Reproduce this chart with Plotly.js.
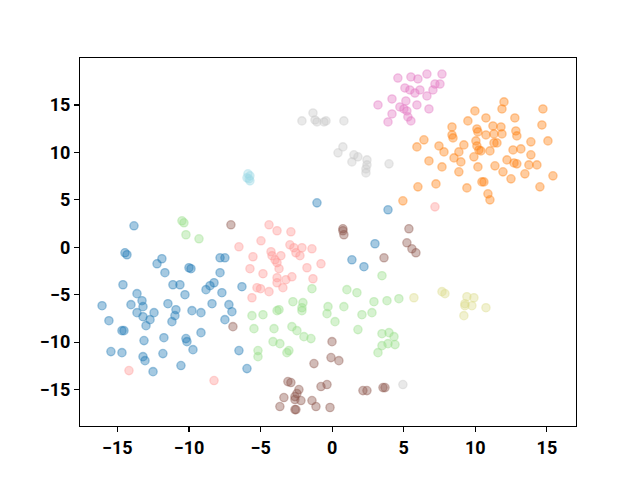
<!DOCTYPE html>
<html>
<head>
<meta charset="utf-8">
<script src="https://cdn.plot.ly/plotly-3.0.1.min.js"></script>
<style>html,body{margin:0;padding:0;background:#fff;}#chart{width:640px;height:480px;}</style>
</head>
<body>
<div id="chart"></div>
<script>
// ---- data ----
const blueX = [-13.84,-14.47,-14.33,-11.89,-12.23,-11.68,-10.00,-9.86,-7.83,-7.49,-7.83,-14.61,-13.63,-13.28,-11.12,-10.63,-10.28,-8.25,-8.53,-8.81,-7.70,-6.30,-16.07,-14.05,-13.21,-11.47,-10.91,-10.98,-8.39,-7.21,-7.00,-15.59,-14.68,-14.54,-13.63,-13.21,-12.72,-12.44,-13.00,-11.19,-9.79,-9.16,-7.49,-11.75,-13.14,-10.21,-10.14,-9.16,-9.72,-15.45,-14.68,-11.82,-13.21,-13.07,-10.56,-12.51,-6.51,-5.95,-1.06,3.90,2.99,1.38,2.22];
const blueY = [2.26,-0.58,-0.79,-1.21,-1.74,-2.68,-2.16,-2.26,-1.11,-1.11,-2.68,-3.95,-4.89,-5.63,-3.95,-3.95,-5.00,-3.74,-4.05,-4.47,-4.79,-4.16,-6.16,-6.05,-6.26,-5.95,-6.58,-7.21,-5.95,-6.05,-6.79,-7.74,-8.79,-8.79,-6.89,-7.32,-7.63,-6.89,-8.26,-7.84,-6.68,-6.89,-7.63,-9.53,-9.84,-9.63,-9.95,-9.00,-10.79,-11.00,-11.11,-11.21,-11.53,-11.95,-12.47,-13.11,-10.89,-12.79,4.68,3.95,0.37,-1.32,-2.05];

const orangeX = [12.00,11.86,14.72,9.97,9.48,10.74,12.76,11.23,11.79,10.11,8.37,10.18,12.83,12.90,14.65,10.74,11.30,11.86,8.37,8.44,10.04,6.41,15.07,13.88,11.30,11.51,5.92,7.46,9.20,10.11,10.25,13.18,12.63,7.81,8.85,10.39,11.02,13.88,8.51,9.90,12.21,8.99,6.76,12.70,12.90,13.74,14.30,7.67,10.18,11.37,11.93,13.46,8.85,12.49,15.42,7.25,9.41,10.46,10.60,14.51,5.99,10.88,11.02,4.94];
const orangeY = [15.32,14.58,14.58,14.37,13.32,13.63,13.63,12.79,12.68,12.47,12.68,12.16,12.26,11.74,12.89,11.84,11.95,11.95,11.84,11.53,11.21,11.32,11.21,11.11,11.00,11.00,10.58,10.68,10.79,10.68,10.26,10.37,10.26,10.05,10.05,10.16,10.16,9.74,9.42,9.53,9.21,9.00,9.10,8.89,8.79,8.68,8.68,8.47,8.47,8.58,7.95,7.74,7.95,7.21,7.53,6.68,6.26,6.89,6.89,6.37,6.37,5.63,5.00,4.89];

const lgreenX = [-10.49,-10.35,-10.21,-9.30,3.48,-1.41,1.03,1.73,-2.74,-2.04,-2.11,-0.29,0.82,2.92,3.83,4.66,-5.60,-4.83,-3.85,-3.71,-2.11,-0.36,-5.46,-4.06,-2.81,-2.46,-1.97,-1.48,0.20,2.08,2.78,1.80,-4.13,-3.65,-5.18,-5.18,-3.16,-3.02,3.48,3.97,4.32,3.90,4.39,3.48,3.20];
const lgreenY = [2.79,2.58,1.32,0.89,-3.00,-4.37,-4.47,-4.79,-5.74,-5.84,-6.37,-6.26,-6.26,-5.74,-5.63,-5.42,-7.21,-7.11,-6.68,-6.58,-6.68,-7.00,-8.58,-8.58,-8.37,-8.79,-9.42,-9.63,-7.84,-7.11,-6.89,-8.68,-9.95,-10.16,-10.89,-11.53,-11.11,-10.89,-9.11,-9.00,-9.42,-10.16,-10.26,-10.37,-11.11];

const lredX = [-4.41,-3.85,-2.88,-4.97,-2.95,-2.67,-2.11,-1.41,-4.27,-2.53,-2.25,-3.58,-4.20,-5.53,-3.99,-3.85,-0.78,-5.74,-3.71,-1.76,-4.83,-3.85,-2.81,-3.23,-3.85,-1.34,-5.25,-5.00,-4.41,-3.44,-5.60,-6.51,-14.19,-8.25,7.18];
const lredY = [2.37,1.74,1.63,0.68,0.26,-0.05,-0.05,-0.16,-0.47,-0.58,-0.89,-0.89,-0.89,-1.00,-1.32,-1.63,-1.74,-2.26,-2.26,-2.16,-2.79,-3.21,-3.11,-3.42,-3.74,-3.32,-4.26,-4.37,-4.68,-4.26,-5.32,0.05,-13.00,-14.05,4.26];

const brownX = [-7.07,-6.93,0.75,0.75,0.82,5.36,5.22,5.57,5.85,3.62,-0.01,-0.08,0.47,-1.27,-3.09,-2.88,-2.32,-2.46,-2.60,-3.37,-2.18,-2.60,-1.41,-0.78,-0.36,-3.65,-2.60,-2.53,-1.13,-0.15,2.15,2.43,3.55,3.69];
const brownY = [2.37,-8.37,1.95,1.74,1.32,1.95,0.47,-0.16,-0.58,-1.11,-9.95,-11.63,-11.95,-12.26,-14.16,-14.26,-15.00,-15.42,-15.74,-15.84,-16.16,-16.05,-16.16,-14.68,-14.47,-16.79,-17.11,-17.11,-16.79,-16.89,-15.11,-15.11,-14.79,-14.79];

const pinkX = [4.59,5.50,5.99,6.62,7.67,7.18,7.53,5.08,5.43,6.13,7.04,5.78,6.62,4.18,5.15,3.20,5.92,4.73,5.01,5.22,6.76,4.18,5.29,3.90,5.50];
const pinkY = [17.84,17.95,17.74,18.26,18.26,17.21,17.21,16.79,16.58,16.58,16.58,16.26,15.95,15.63,15.42,15.00,15.00,14.79,14.58,14.37,14.58,14.05,13.74,13.21,13.32];

const lgrayX = [-1.34,-2.11,-1.20,-1.06,-0.57,-0.43,0.82,0.75,0.41,1.52,1.80,1.38,2.43,2.43,2.36,2.36,3.97,4.94];
const lgrayY = [14.16,13.32,13.42,13.21,13.21,13.32,13.32,10.58,9.95,9.74,9.53,9.00,9.21,8.68,8.26,7.84,8.79,-14.47];

const loliveX = [5.71,7.67,7.88,9.41,9.90,9.27,9.27,9.76,10.74,9.20];
const loliveY = [-5.32,-4.68,-4.89,-5.21,-5.32,-5.95,-6.16,-6.16,-6.37,-7.21];

const lcyanX = [-5.88,-5.74,-5.95,-5.74,-5.81];
const lcyanY = [7.74,7.53,7.32,7.00,7.21];

const seriesColors = ['31,119,180','255,127,14','152,223,138','255,152,150','140,86,75','227,119,194','199,199,199','219,219,141','158,218,229'];
const seriesX = [blueX, orangeX, lgreenX, lredX, brownX, pinkX, lgrayX, loliveX, lcyanX];
const seriesY = [blueY, orangeY, lgreenY, lredY, brownY, pinkY, lgrayY, loliveY, lcyanY];

const alpha = 0.4;
const traces = seriesX.map((xs, i) => ({
  type: 'scatter',
  mode: 'markers',
  x: xs,
  y: seriesY[i],
  showlegend: false,
  hoverinfo: 'skip',
  marker: {
    size: 8.3,
    color: 'rgba(' + seriesColors[i] + ',' + alpha + ')',
    line: {color: 'rgba(' + seriesColors[i] + ',' + alpha + ')', width: 1.3}
  }
}));

const axisCommon = {
  showgrid: false,
  zeroline: false,
  showline: true,
  mirror: true,
  linecolor: '#000',
  linewidth: 1.1,
  ticks: 'outside',
  ticklen: 5,
  tickwidth: 1.1,
  tickcolor: '#000',
  dtick: 5,
  tick0: 0,
  tickfont: {family: 'Roboto, Arial, sans-serif', size: 18, color: '#000', weight: 'bold'}
};

const layout = {
  width: 640,
  height: 480,
  margin: {l: 80, r: 64, t: 58, b: 54},
  paper_bgcolor: '#fff',
  plot_bgcolor: '#fff',
  xaxis: Object.assign({}, axisCommon, {range: [-17.61, 17.03]}),
  yaxis: Object.assign({}, axisCommon, {range: [-18.84, 19.95]})
};

Plotly.newPlot('chart', traces, layout, {staticPlot: true, displayModeBar: false});
</script>
</body>
</html>
